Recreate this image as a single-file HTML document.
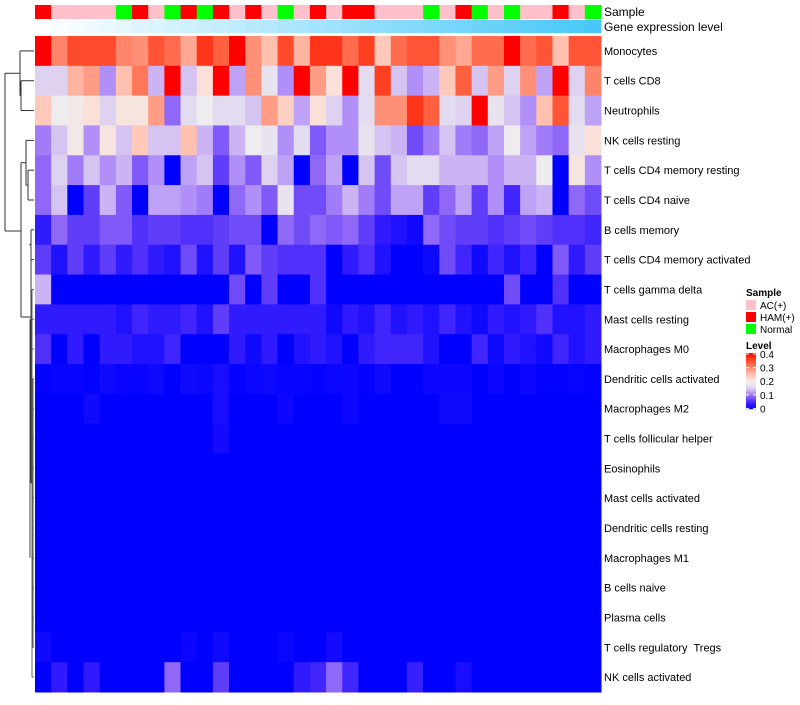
<!DOCTYPE html>
<html><head><meta charset="utf-8"><style>
html,body{margin:0;padding:0;background:#fff;}
svg text{font-family:"Liberation Sans",sans-serif;white-space:pre;}
</style></head><body>
<svg id="chart" width="800" height="700" viewBox="0 0 800 700" xmlns="http://www.w3.org/2000/svg" xml:space="preserve">
<g id="dendro" stroke="#333" stroke-width="1" fill="none"></g>
<g id="anno"></g>
<g id="cells"></g>
<g id="labels" font-size="11" fill="#000"></g>
<text x="604" y="16" font-size="12">Sample</text>
<text x="604" y="31" font-size="12">Gene expression level</text>
<g>
<text x="746" y="296" font-size="10" font-weight="bold">Sample</text>
<rect x="746" y="300" width="10" height="10" fill="#FFC0CB"/>
<text x="760" y="309" font-size="10">AC(+)</text>
<rect x="746" y="312" width="10" height="10" fill="#FF0000"/>
<text x="760" y="321" font-size="10">HAM(+)</text>
<rect x="746" y="324" width="10" height="10" fill="#00FF00"/>
<text x="760" y="333" font-size="10">Normal</text>
<text x="746" y="349" font-size="10" font-weight="bold">Level</text>
<g id="cbar"></g>
</g>
</svg>
<script>
const rowNames=["Monocytes","T cells CD8","Neutrophils","NK cells resting","T cells CD4 memory resting","T cells CD4 naive","B cells memory","T cells CD4 memory activated","T cells gamma delta","Mast cells resting","Macrophages M0","Dendritic cells activated","Macrophages M2","T cells follicular helper","Eosinophils","Mast cells activated","Dendritic cells resting","Macrophages M1","B cells naive","Plasma cells","T cells regulatory  Tregs","NK cells activated"];
const sampleGroups=["H","A","A","A","A","N","H","A","N","H","N","H","A","H","A","N","A","H","A","H","H","A","A","A","N","A","H","N","A","N","A","A","H","A","N"];
// values in hundredths (0..40 => 0..0.4)
const row0=[40,30,35,35,35,30,29,34,32,27,37,33,40,29,25,35,26,37,37,32,36,24,32,34,34,29,27,32,32,40,32,34,25,34,34];
const row1=[15,15,26,28,11,25,31,13,40,14,21,40,12,29,17,11,40,28,21,40,16,36,14,11,13,24,33,14,28,15,29,12,40,15,30];
const row2=[24,18,19,21,15,20,20,28,9,16,18,16,16,14,28,23,12,21,15,11,16,29,29,37,33,16,15,40,17,14,11,25,34,16,12];
const row3=[10,14,19,11,20,14,24,14,14,25,13,8,13,18,17,11,16,8,11,11,17,14,13,7,10,14,10,9,12,18,12,10,9,17,21];
const row4=[9,15,10,14,11,13,8,11,0,12,14,6,11,8,15,12,0,9,12,0,14,7,14,16,16,13,13,13,11,13,13,18,0,20,11];
const row5=[9,14,0,6,13,8,0,12,12,11,10,0,9,11,8,17,7,7,10,13,10,7,12,12,6,9,12,6,11,4,12,13,0,9,7];
const row6=[3,9,6,6,8,8,5,6,6,5,5,6,7,7,0,9,7,9,8,9,6,3,2,1,9,7,6,6,5,6,7,6,5,5,4];
const row7=[6,2,6,3,6,3,5,3,2,7,2,6,2,8,6,5,5,5,0,3,5,2,0,0,1,7,4,1,4,2,4,0,8,3,6];
const row8=[13,0,0,0,0,0,0,0,0,0,0,0,7,0,6,0,0,5,0,0,0,0,0,0,0,0,0,0,0,7,0,0,5,0,0];
const row9=[3,3,3,3,3,2,4,3,3,4,2,6,3,3,3,3,3,3,1,3,2,4,2,3,2,4,2,1,3,2,3,5,2,2,3];
const row10=[5,0,3,0,3,3,2,2,4,0,0,0,3,1,3,0,2,3,2,0,3,4,4,4,2,0,0,4,1,3,2,1,4,2,3];
const row11=[0.3,0.5,0.5,0.2,1,0.5,0.5,1,0,1,0.7,1.5,0.3,0.7,0.9,0.5,0.5,0.3,0.7,0.8,0.3,1,0,0,0.8,0.8,0.8,0,0.7,0,0.8,0.2,0.2,0.4,0.2];
const row12=[0,0,0,1,0,0,0,0,0,0,0,1.5,0,0,0,0.8,0,0,0,0.8,0,0,0,0,0,1,1,0,0,0,0,0,0,0,0];
const row13=[0,0,0,0,0,0,0,0,0,0,0,1.2,0,0,0,0,0,0,0,0,0,0,0,0,0,0,0,0,0,0,0,0,0,0,0];
const row14=[0,0,0,0,0,0,0,0,0,0,0,0,0,0,0,0,0,0,0,0,0,0,0,0,0,0,0,0,0,0,0,0,0,0,0];
const row15=[0,0,0,0,0,0,0,0,0,0,0,0,0,0,0,0,0,0,0,0,0,0,0,0,0,0,0,0,0,0,0,0,0,0,0];
const row16=[0,0,0,0,0,0,0,0,0,0,0,0,0,0,0,0,0,0,0,0,0,0,0,0,0,0,0,0,0,0,0,0,0,0,0];
const row17=[0,0,0,0,0,0,0,0,0,0,0,0,0,0,0,0,0,0,0,0,0,0,0,0,0,0,0,0,0,0,0,0,0,0,0];
const row18=[0,0,0,0,0,0,0,0,0,0,0,0,0,0,0,0,0,0,0,0,0,0,0,0,0,0,0,0,0,0,0,0,0,0,0];
const row19=[0,0,0,0,0,0,0,0,0,0,0,0,0,0,0,0,0,0,0,0,0,0,0,0,0,0,0,0,0,0,0,0,0,0,0];
const row20=[1,0,0,0,0,0,0,0,0,0.6,0,1,0,0,0,0.6,0,0,1.2,0,0,0,0,0,0,0,0,0,0,0,0,0,0,0,0];
const row21=[0,3,0,3,0,0,0,0,9,0,0,6,0,0,0,0,3,4,9,4,0,0,0,3.5,0,0,1.5,0,0,0,0,0,0,0,0];
const levelTicks=["0.4","0.3","0.2","0.1","0"];
const values=[row0,row1,row2,row3,row4,row5,row6,row7,row8,row9,row10,row11,row12,row13,row14,row15,row16,row17,row18,row19,row20,row21];

const NS="http://www.w3.org/2000/svg";
const X0=35,X1=601,Y0=36,Y1=692;
const nC=sampleGroups.length,nR=rowNames.length;
const cw=(X1-X0)/nC, rh=(Y1-Y0)/nR;
const xPos=i=>X0+i*cw, yPos=j=>Y0+j*rh;
const stops=[[0,[0,0,255]],[3,[48,26,255]],[5,[80,48,250]],[7,[112,76,248]],[9,[144,104,248]],[11,[176,144,248]],[13,[204,180,244]],[15,[222,210,240]],[18,[238,236,238]],[21,[250,224,216]],[25,[255,192,176]],[29,[255,144,120]],[33,[255,96,64]],[37,[255,52,24]],[40,[255,0,0]]];
function color(v){
  v=Math.max(0,Math.min(40,v));
  for(let k=0;k<stops.length-1;k++){
    const a=stops[k],b=stops[k+1];
    if(v<=b[0]){const t=(v-a[0])/(b[0]-a[0]);
      return "rgb("+a[1].map((c,i)=>Math.round(c+(b[1][i]-c)*t)).join(",")+")";}
  }
  return "rgb(255,0,0)";
}
function mk(tag,attrs,parent){const e=document.createElementNS(NS,tag);for(const k in attrs)e.setAttribute(k,attrs[k]);parent.appendChild(e);return e;}
const cells=document.getElementById('cells');
values.forEach((row,j)=>{row.forEach((v,i)=>{
  const r=mk('rect',{x:xPos(i),y:yPos(j),width:cw+0.5,height:rh+0.5,fill:color(v)},cells);
  
  
});});
const labels=document.getElementById('labels');
rowNames.forEach((n,j)=>{
  const t=mk('text',{x:604,y:yPos(j)+rh/2+4},labels);t.textContent=n;
  
  
});
const anno=document.getElementById('anno');
const gcol={A:"#FFC0CB",H:"#FF0000",N:"#00FF00"};
sampleGroups.forEach((g,i)=>{
  const r=mk('rect',{x:xPos(i),y:5,width:cw+0.5,height:14,fill:gcol[g]},anno);
  
  
  const t=i/(nC-1);
  const c=[255+(72-255)*t,255+(200-255)*t,255+(248-255)*t].map(Math.round);
  const r2=mk('rect',{x:xPos(i),y:20,width:cw+0.5,height:13,fill:"rgb("+c.join(",")+")"},anno);
  
  
});
const cb=document.getElementById('cbar');
for(let k=0;k<56;k++){
  const v=40-k*40/55;
  mk('rect',{x:746,y:353+k,width:10,height:1.2,fill:color(v)},cb);
}
levelTicks.forEach((s,k)=>{
  const y=354+k*13.6;
  mk('line',{x1:746,x2:749,y1:y,y2:y,stroke:"#fff"},cb);
  mk('line',{x1:753,x2:756,y1:y,y2:y,stroke:"#fff"},cb);
  const t=mk('text',{x:760,y:y+4,"font-size":10},cb);t.textContent=s;
  
  
});
const d=document.getElementById('dendro');
const cy=j=>yPos(j)+rh/2;
function seg(x1,y1,x2,y2,c){mk('line',{x1,y1,x2,y2,stroke:c||"#333"},d);}
seg(21,cy(1),34,cy(1));seg(21,cy(2),34,cy(2));seg(21,cy(1),21,cy(2));
const nA=(cy(1)+cy(2))/2;
seg(20,cy(0),34,cy(0));seg(20,cy(0),20,nA);seg(20,nA,21,nA);
const topY=(cy(0)+nA)/2;
seg(28,cy(4),34,cy(4));seg(28,cy(5),34,cy(5));seg(28,cy(4),28,cy(5));
const n45=(cy(4)+cy(5))/2;
seg(26,cy(3),34,cy(3));seg(26,cy(3),26,n45);seg(26,n45,28,n45);
const b1=(cy(3)+n45)/2;
seg(31,cy(6),34,cy(6));seg(31,cy(7),34,cy(7));seg(31,cy(6),31,cy(7));
for(let j=8;j<22;j++){seg(32,cy(j),34,cy(j),"#666");}
seg(32,cy(8),32,cy(21),"#666");
seg(30,cy(9),30,cy(17),"#444");
seg(33,cy(11),33,cy(20),"#555");
const lowMid=(cy(8)+cy(21))/2;
seg(31,cy(6.5),31,lowMid);
seg(29,(cy(6)+cy(7))/2,31,(cy(6)+cy(7))/2);
const b2=317;
seg(21,b2,31,b2);
seg(21,b1,26,b1);seg(21,b1,21,b2);
const bMid=231;
seg(5,topY,20,topY);seg(5,topY,5,bMid);seg(5,bMid,21,bMid);
</script>
</body></html>
